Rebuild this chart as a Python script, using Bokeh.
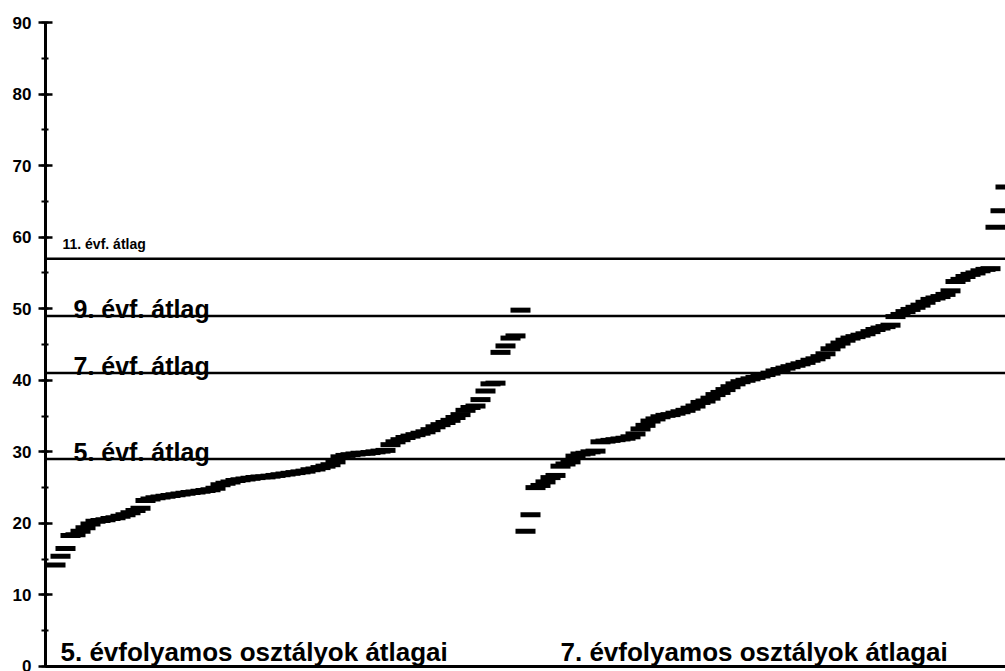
from bokeh.plotting import figure
from bokeh.models import Range1d, Span, SingleIntervalTicker, FixedTicker, ColumnDataSource
from bokeh.core.properties import value
from bokeh.embed import file_html
from bokeh.resources import INLINE

# ---- data: class averages, sorted ascending ----
grade5_avgs = [
    14.2, 15.4, 16.5, 18.3, 18.4, 18.9, 19.4, 19.9, 20.3, 20.4,
    20.5, 20.7, 20.8, 21.0, 21.2, 21.5, 21.8, 22.1, 23.2, 23.4,
    23.6, 23.7, 23.8, 23.9, 24.0, 24.1, 24.2, 24.3, 24.4, 24.5,
    24.6, 24.7, 24.9, 25.4, 25.6, 25.8, 26.0, 26.1, 26.2, 26.3,
    26.4, 26.5, 26.5, 26.6, 26.7, 26.8, 26.9, 27.0, 27.1, 27.2,
    27.3, 27.5, 27.6, 27.8, 28.0, 28.2, 28.6, 29.3, 29.5, 29.6,
    29.7, 29.8, 29.8, 29.9, 30.0, 30.1, 30.2, 31.0, 31.4, 31.7,
    32.0, 32.2, 32.4, 32.6, 32.8, 33.1, 33.5, 33.8, 34.1, 34.4,
    34.8, 35.2, 35.8, 36.2, 36.4, 37.3, 38.5, 39.5, 39.6, 43.9,
    44.8, 45.9, 46.2, 49.8,
]
grade7_avgs = [
    18.9, 21.2, 25.0, 25.3, 25.8, 26.4, 26.7, 28.0, 28.3, 28.6,
    29.4, 29.7, 29.8, 30.0, 30.1, 31.4, 31.5, 31.6, 31.7, 31.8,
    31.9, 32.1, 32.5, 33.2, 33.7, 34.3, 34.6, 34.9, 35.1, 35.2,
    35.4, 35.6, 35.8, 36.1, 36.4, 36.9, 37.1, 37.5, 38.0, 38.3,
    38.7, 39.1, 39.5, 39.8, 40.0, 40.2, 40.4, 40.6, 40.8, 41.0,
    41.3, 41.5, 41.7, 41.9, 42.1, 42.3, 42.5, 42.8, 43.0, 43.3,
    43.7, 44.4, 44.8, 45.2, 45.6, 45.9, 46.1, 46.3, 46.5, 46.8,
    47.1, 47.3, 47.5, 47.7, 48.9, 49.2, 49.6, 49.9, 50.2, 50.5,
    50.9, 51.3, 51.5, 51.7, 52.0, 52.5, 53.8, 54.1, 54.5, 54.8,
    55.0, 55.3, 55.5, 55.6, 61.4, 63.7, 67.0,
]
grade_means = [29, 41, 49, 57]
grade_mean_labels = ["5. évf. átlag", "7. évf. átlag", "9. évf. átlag", "11. évf. átlag"]
group_labels = ["5. évfolyamos osztályok átlagai", "7. évfolyamos osztályok átlagai"]

# class rank positions (the two groups follow one another)
x5 = list(range(len(grade5_avgs)))
x7 = [len(grade5_avgs) + i for i in range(len(grade7_avgs))]

FONT = value("Liberation Sans")

p = figure(width=1005, height=671,
           x_range=Range1d(-2, 190), y_range=Range1d(0, 90),
           output_backend="svg", toolbar_location=None,
           min_border_left=45, min_border_right=0,
           min_border_top=22, min_border_bottom=5)
p.outline_line_color = None
p.grid.visible = False
p.background_fill_color = "white"
p.border_fill_color = "white"

# axes
p.yaxis.ticker = SingleIntervalTicker(interval=10, num_minor_ticks=2)
p.yaxis.axis_line_width = 3
p.yaxis.axis_line_color = "black"
p.yaxis.major_tick_line_width = 2.5
p.yaxis.major_tick_in = 7
p.yaxis.major_tick_out = 7
p.yaxis.minor_tick_line_width = 2
p.yaxis.minor_tick_in = 3
p.yaxis.minor_tick_out = 4
p.yaxis.major_label_text_font = "Liberation Sans"
p.yaxis.major_label_text_font_style = "bold"
p.yaxis.major_label_text_font_size = "17px"
p.yaxis.major_label_text_color = "black"
p.yaxis.major_label_standoff = 7

p.xaxis.ticker = FixedTicker(ticks=[])
p.xaxis.axis_line_width = 3
p.xaxis.axis_line_color = "black"
p.xaxis.major_tick_line_color = None
p.xaxis.minor_tick_line_color = None

# grade mean reference lines
for m in grade_means:
    p.add_layout(Span(location=m, dimension="width", line_color="black", line_width=2.5))

# class averages as dashes
src5 = ColumnDataSource(dict(x=x5, y=grade5_avgs))
src7 = ColumnDataSource(dict(x=x7, y=grade7_avgs))
for src in (src5, src7):
    p.rect(x="x", y="y", width=20, height=5, width_units="screen", height_units="screen",
           source=src, fill_color="black", line_color=None)

# labels for the mean lines
big = ColumnDataSource(dict(x=[3.6, 3.6, 3.6], y=[30, 42, 50], t=grade_mean_labels[:3]))
p.text(x="x", y="y", text="t", source=big, text_font=FONT, text_font_style="bold",
       text_font_size="25px", text_baseline="alphabetic", text_align="left", text_color="black")
small = ColumnDataSource(dict(x=[1.4], y=[59.1], t=grade_mean_labels[3:]))
p.text(x="x", y="y", text="t", source=small, text_font=FONT, text_font_style="bold",
       text_font_size="14px", text_baseline="alphabetic", text_align="left", text_color="black")

# group labels
grp = ColumnDataSource(dict(x=[1.0, 101.0], y=[2.0, 2.0], t=group_labels))
p.text(x="x", y="y", text="t", source=grp, text_font=FONT, text_font_style="bold",
       text_font_size="26px", text_baseline="alphabetic", text_align="left", text_color="black")

open("out.html", "w").write(file_html(p, INLINE))
